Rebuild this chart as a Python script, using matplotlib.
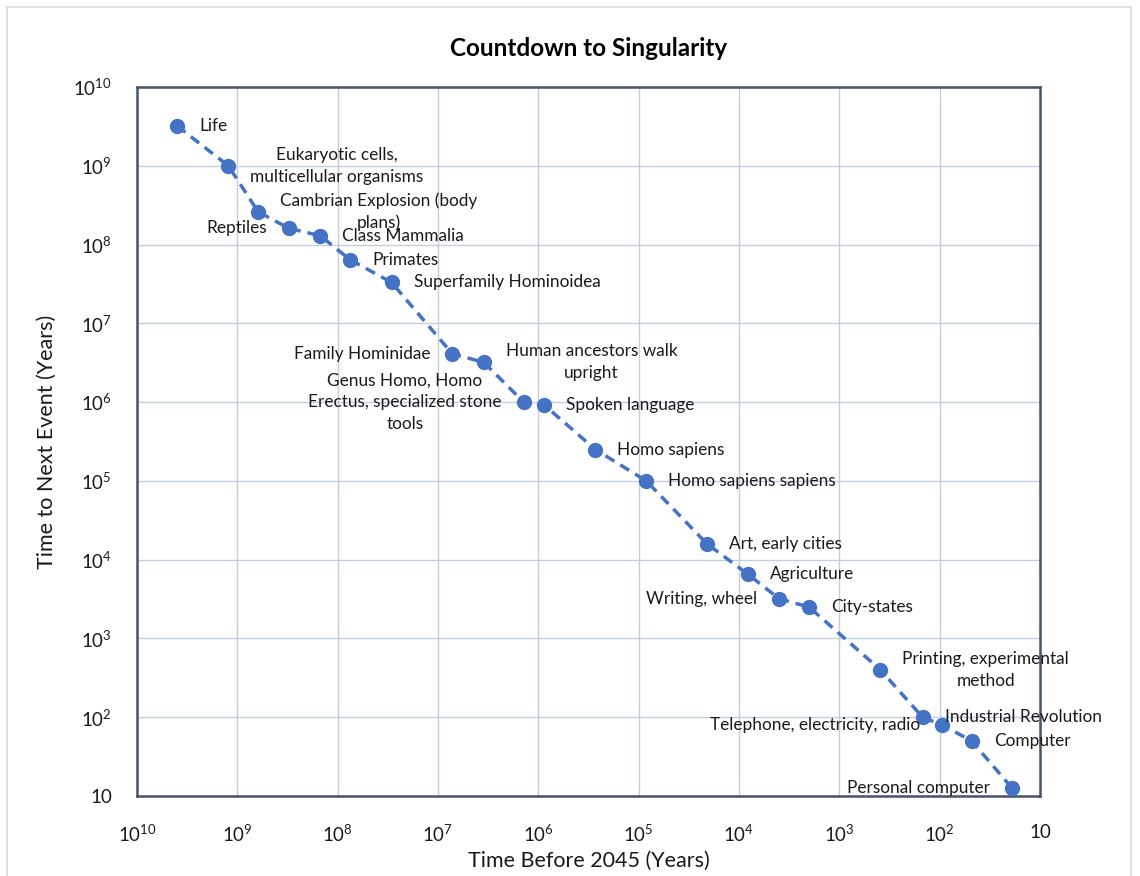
import matplotlib
matplotlib.use("Agg")
import matplotlib.pyplot as plt
from matplotlib.patches import Rectangle

plt.rcParams['font.family'] = ['Lato', 'DejaVu Sans']
plt.rcParams['mathtext.fontset'] = 'custom'
plt.rcParams['mathtext.rm'] = 'Lato'
plt.rcParams['mathtext.it'] = 'Lato:italic'
plt.rcParams['mathtext.bf'] = 'Lato:bold'

# events (chronological)
events = ['Life', 'Eukaryotic cells,\nmulticellular organisms',
          'Cambrian Explosion (body\nplans)', 'Reptiles', 'Class Mammalia',
          'Primates', 'Superfamily Hominoidea', 'Family Hominidae',
          'Human ancestors walk\nupright',
          'Genus Homo, Homo\nErectus, specialized stone\ntools',
          'Spoken language', 'Homo sapiens', 'Homo sapiens sapiens',
          'Art, early cities', 'Agriculture', 'Writing, wheel', 'City-states',
          'Printing, experimental\nmethod', 'Industrial Revolution',
          'Telephone, electricity, radio', 'Computer', 'Personal computer']
years_before = [3.98e9, 1.23e9, 6.2e8, 3.05e8, 1.5e8, 7.5e7, 2.9e7, 7.2e6,
                3.5e6, 1.4e6, 8.75e5, 2.7e5, 8.4e4, 2.1e4, 8.1e3, 4.0e3,
                2.0e3, 390, 148, 95, 48, 19]
time_to_next = [3.2e9, 1.0e9, 2.6e8, 1.6e8, 1.3e8, 6.4e7, 3.3e7, 4.1e6,
                3.2e6, 1.0e6, 9.2e5, 2.5e5, 1.0e5, 1.6e4, 6.5e3, 3.2e3,
                2.5e3, 400, 100, 80, 50, 12.6]
label_side = ['r', 'r', 'r', 'l', 'r', 'r', 'r', 'l', 'r', 'l', 'r', 'r', 'r',
              'r', 'r', 'l', 'r', 'r', 'r', 'l', 'r', 'l']

exps = list(range(1, 11))
tick_vals = [10 ** e for e in exps]
tick_labels = ['10' if e == 1 else r'$\mathregular{10^{%d}}$' % e for e in exps]

blue = '#4472C4'

fig = plt.figure(figsize=(11.4, 8.76), dpi=100)
fig.patches.append(Rectangle((0.006, -0.01), 0.986, 1.002, transform=fig.transFigure,
                             fill=False, edgecolor='#D9D9D9', linewidth=1.2))
ax = fig.add_axes([0.1202, 0.0913, 0.7921, 0.8094])

ax.plot(years_before, time_to_next, linestyle='--', dashes=(3, 2), color=blue,
        linewidth=2.5, marker='o', markersize=10, zorder=3)

for name, x, y, side in zip(events, years_before, time_to_next, label_side):
    if side == 'r':
        ax.annotate(name, (x, y), xytext=(22, 0), textcoords='offset pixels',
                    ha='left', va='center', multialignment='center',
                    fontsize=12.4, linespacing=1.45, color='#1a1a1a', zorder=4)
    else:
        ax.annotate(name, (x, y), xytext=(-22, 0), textcoords='offset pixels',
                    ha='right', va='center', multialignment='center',
                    fontsize=12.4, linespacing=1.45, color='#1a1a1a', zorder=4)

ax.set_xscale('log')
ax.set_yscale('log')
ax.set_xlim(1e10, 10)
ax.set_ylim(10, 1e10)
ax.set_xticks(tick_vals)
ax.set_xticklabels(tick_labels)
ax.set_yticks(tick_vals)
ax.set_yticklabels(tick_labels)
ax.minorticks_off()
ax.tick_params(length=0, labelsize=13.5, colors='#1a1a1a')
ax.tick_params(axis='x', pad=20)
ax.tick_params(axis='y', pad=18)
ax.grid(True, color='#C3CDE0', linewidth=1)
ax.set_axisbelow(True)
for s in ax.spines.values():
    s.set_color('#44546A')
    s.set_linewidth(1.8)

ax.set_title('Countdown to Singularity', fontsize=17.5, fontweight='bold', pad=22,
             color='#000000')
ax.set_xlabel('Time Before 2045 (Years)', fontsize=15.5, color='#1a1a1a', labelpad=4)
ax.set_ylabel('Time to Next Event (Years)', fontsize=15.5, color='#1a1a1a', labelpad=12)

fig.savefig('out.png', dpi=100)
